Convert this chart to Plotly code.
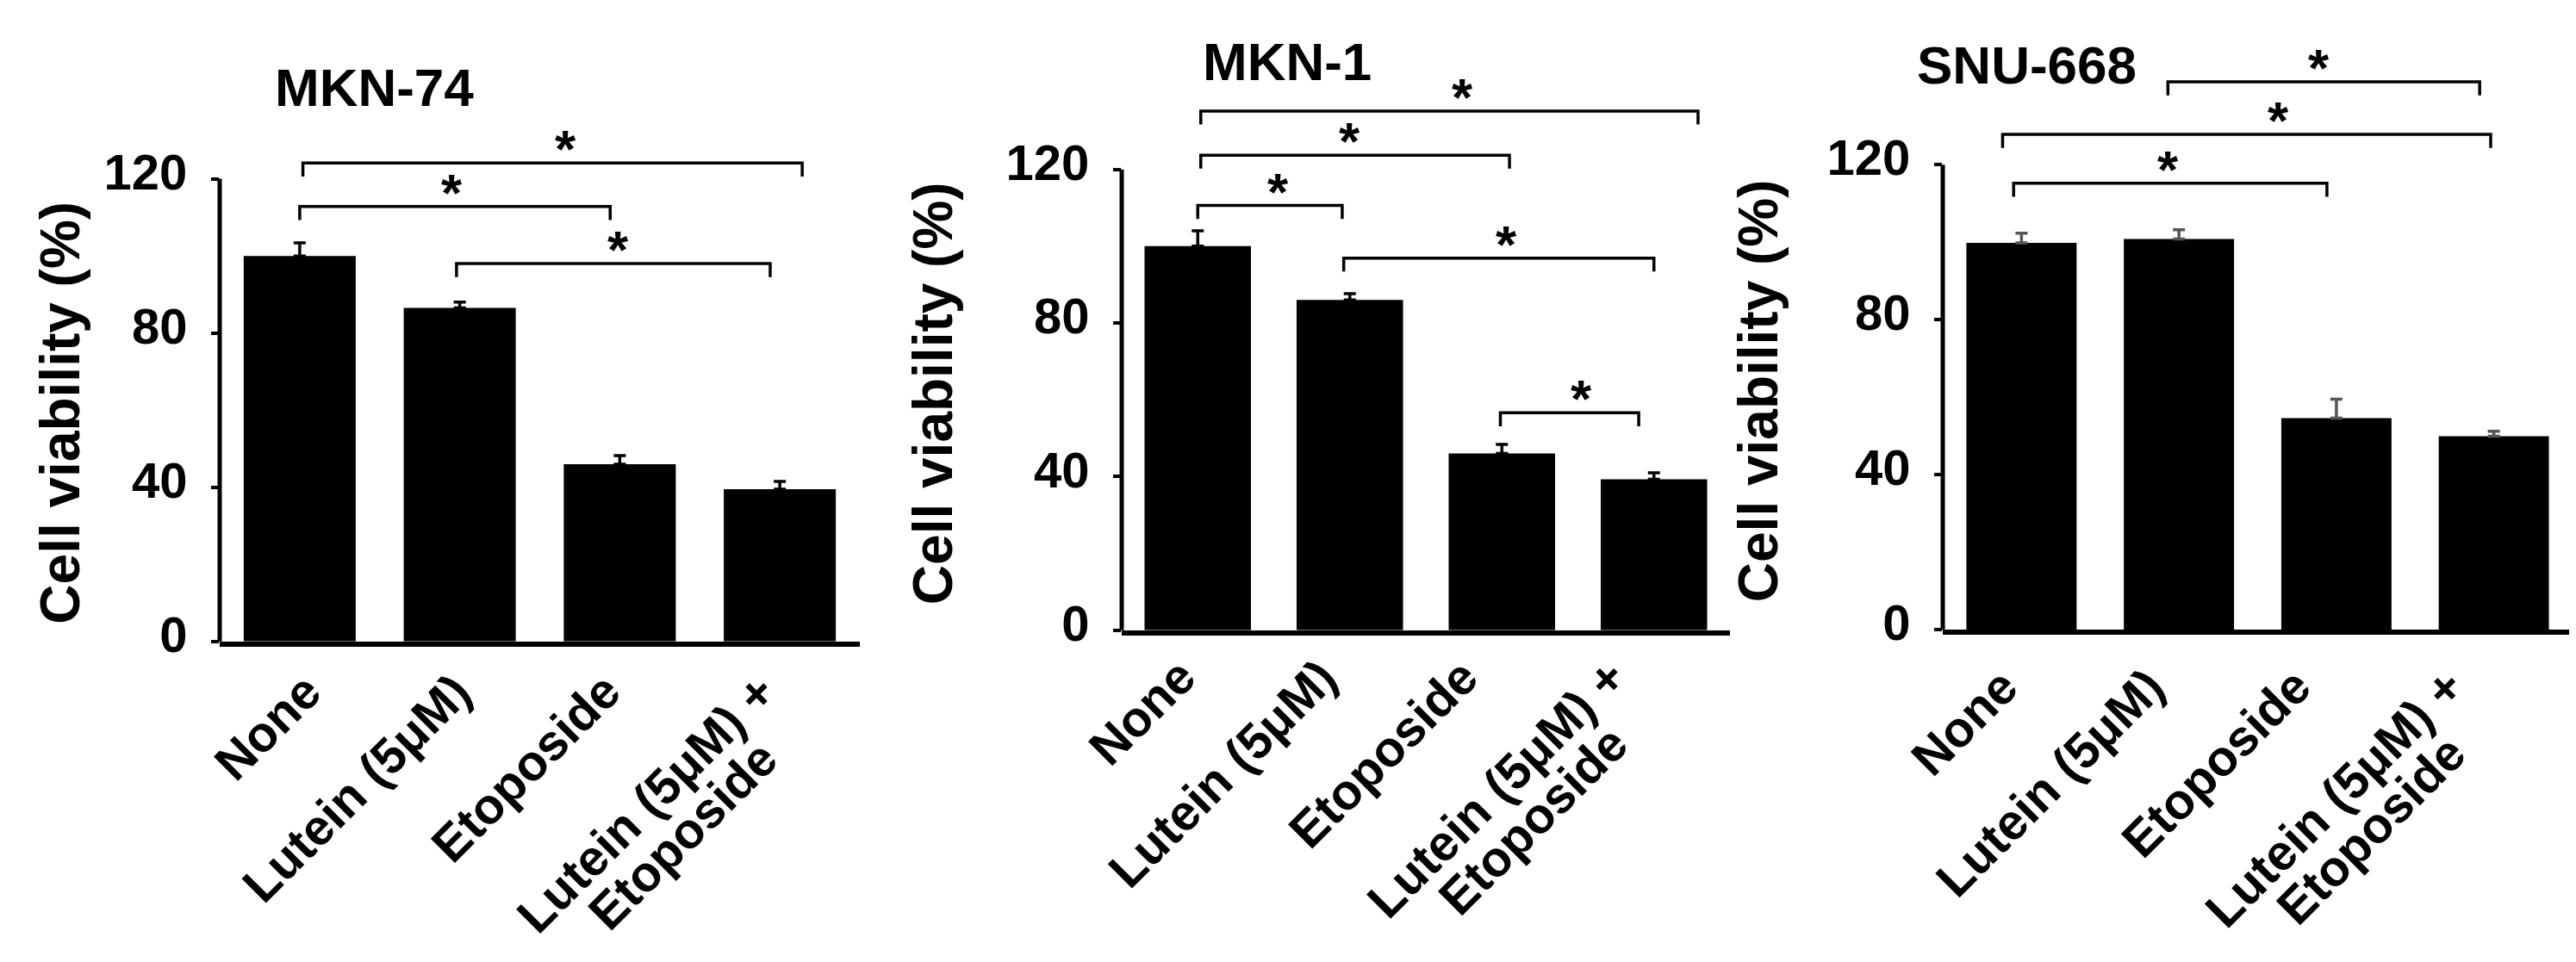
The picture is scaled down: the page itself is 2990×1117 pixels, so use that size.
import plotly.graph_objects as go

# ---------------- data ----------------
categories = ["None", "Lutein (5μM)", "Etoposide", "Lutein (5μM) + Etoposide"]
# category label text, split into the printed lines
category_lines = [["None"], ["Lutein (5μM)"], ["Etoposide"], ["Lutein (5μM) +", "Etoposide"]]
panel_titles = ["MKN-74", "MKN-1", "SNU-668"]
y_title = "Cell viability (%)"
y_ticks = [0, 40, 80, 120]

mkn74_mean = [100.0, 86.5, 46.0, 39.5]
mkn74_err = [3.4, 1.5, 2.2, 2.0]
mkn1_mean = [100.0, 86.0, 46.0, 39.3]
mkn1_err = [4.0, 1.6, 2.4, 1.7]
snu668_mean = [99.8, 100.8, 54.6, 49.9]
snu668_err = [2.5, 2.4, 4.9, 1.3]

# significance brackets: start index, end index, height (%), star x
mkn74_br_from = [0.02, 0.0, 0.98]
mkn74_br_to = [3.14, 1.94, 2.94]
mkn74_br_y = [124.1, 112.8, 98.0]
mkn74_star_x = [1.66, 0.95, 1.99]

mkn1_br_from = [0.02, 0.02, 0.0, 0.96, 1.99]
mkn1_br_to = [3.29, 2.05, 0.95, 3.0, 2.9]
mkn1_br_y = [135.2, 123.7, 110.6, 96.9, 56.6]
mkn1_star_x = [1.74, 1.0, 0.53, 2.03, 2.52]

snu668_br_from = [0.93, -0.12, -0.05]
snu668_br_to = [2.91, 2.98, 1.94]
snu668_br_y = [141.4, 127.8, 115.2]
snu668_star_x = [1.89, 1.63, 0.93]

means = [mkn74_mean, mkn1_mean, snu668_mean]
errs = [mkn74_err, mkn1_err, snu668_err]
br_from = [mkn74_br_from, mkn1_br_from, snu668_br_from]
br_to = [mkn74_br_to, mkn1_br_to, snu668_br_to]
br_y = [mkn74_br_y, mkn1_br_y, snu668_br_y]
star_x = [mkn74_star_x, mkn1_star_x, snu668_star_x]

# ---------------- layout / style ----------------
W, H = 2990, 1117
FONT = "Liberation Sans, Arial, Helvetica, sans-serif"
Y_TOP = 155.0
AXIS_MAX = 120.0
BR_DROP = 3.5
err_colors = ["black", "black", "#555555"]

# pixel geometry of each panel: left, right, bottom (value 0), pixel of 120
panel_px = [
    dict(x0=247, x1=990, y0=753, y120=204),
    dict(x0=1294, x1=2000, y0=739.6, y120=192.8),
    dict(x0=2247, x1=2978, y0=739, y120=187.2),
]
title_px = [(426, 96), (1486, 65), (2344, 69)]
ytitle_px = [(62, 482), (1075, 459), (2033, 456)]
label_yshift = [-22, -18, -30]
label_xshift_panel = [0, -28, -30]
label_xshift_cat = [0, -12, -25, -30]
LABEL_XSHIFT = 40
LINE_STEP = 78
LINE_DX = 2

fig = go.Figure()
shapes = []
annotations = []

for i in range(3):
    p = panel_px[i]
    sfx = "" if i == 0 else str(i + 1)
    xname, yname = "x" + sfx, "y" + sfx
    top_px = p["y0"] - (p["y0"] - p["y120"]) * Y_TOP / AXIS_MAX
    xdom = [p["x0"] / W, p["x1"] / W]
    ydom = [1 - p["y0"] / H, 1 - top_px / H]

    fig.add_trace(go.Bar(
        x=categories, y=means[i],
        xaxis=xname, yaxis=yname,
        marker=dict(color="black", line=dict(width=0)),
        error_y=dict(type="data", array=errs[i], arrayminus=[0] * len(errs[i]),
                     symmetric=False, color=err_colors[i], thickness=3.5, width=7),
        showlegend=False, hoverinfo="skip",
    ))

    fig.layout["xaxis" + sfx] = dict(
        domain=xdom, anchor=yname, type="category",
        categoryorder="array", categoryarray=categories,
        range=[-0.5, 3.5], showline=True, linecolor="black", linewidth=6,
        ticks="", showticklabels=False, showgrid=False, zeroline=False, fixedrange=True,
    )
    fig.layout["yaxis" + sfx] = dict(
        domain=ydom, anchor=xname, range=[0, Y_TOP],
        tickvals=y_ticks, ticktext=[str(v) for v in y_ticks],
        ticks="outside", ticklen=9, tickwidth=4, tickcolor="black",
        tickfont=dict(family=FONT, size=58, color="black", weight="bold"),
        ticklabelstandoff=16, ticklabelshift=-8,
        showline=False, showgrid=False, zeroline=False, fixedrange=True,
    )

    # y-axis line only up to 120
    shapes.append(dict(type="line", xref=xname + " domain", yref=yname + " domain",
                       x0=0, x1=0, y0=0, y1=AXIS_MAX / Y_TOP,
                       line=dict(color="black", width=5)))

    # significance brackets + stars
    for a, b, h, sx in zip(br_from[i], br_to[i], br_y[i], star_x[i]):
        shapes.append(dict(
            type="path", xref=xname, yref=yname,
            path=f"M {a},{h - BR_DROP} L {a},{h} L {b},{h} L {b},{h - BR_DROP}",
            line=dict(color="black", width=3.5),
        ))
        annotations.append(dict(
            x=sx, y=h, xref=xname, yref=yname, text="*", showarrow=False,
            xanchor="center", yanchor="bottom", yshift=-20,
            font=dict(family=FONT, size=62, color="black", weight="bold"),
        ))

    # category labels (rotated, one annotation per printed line)
    for j, (c, lines) in enumerate(zip(categories, category_lines)):
        for k, line in enumerate(lines):
            annotations.append(dict(
                x=c, y=0, xref=xname, yref=yname, text=line, showarrow=False,
                xanchor="right", yanchor="top", textangle=-45,
                xshift=LABEL_XSHIFT + label_xshift_panel[i] + label_xshift_cat[j] + k * LINE_DX,
                yshift=label_yshift[i] - k * LINE_STEP,
                font=dict(family=FONT, size=58, color="black", weight="bold"),
            ))

    # panel title
    tx, ty = title_px[i]
    annotations.append(dict(
        x=tx / W, y=1 - ty / H, xref="paper", yref="paper", text=panel_titles[i],
        showarrow=False, xanchor="center", yanchor="middle",
        font=dict(family=FONT, size=62, color="black", weight="bold"),
    ))
    # y-axis title
    ax_, ay_ = ytitle_px[i]
    annotations.append(dict(
        x=ax_ / W, y=1 - ay_ / H, xref="paper", yref="paper", text=y_title,
        showarrow=False, xanchor="center", yanchor="middle", textangle=-90,
        font=dict(family=FONT, size=64, color="black", weight="bold"),
    ))

fig.update_layout(
    width=W, height=H,
    margin=dict(l=0, r=0, t=0, b=0),
    paper_bgcolor="white", plot_bgcolor="white",
    bargap=0.3,
    shapes=shapes, annotations=annotations,
    showlegend=False,
)

fig.write_html("out.html", include_plotlyjs=True, config={"displayModeBar": False})
